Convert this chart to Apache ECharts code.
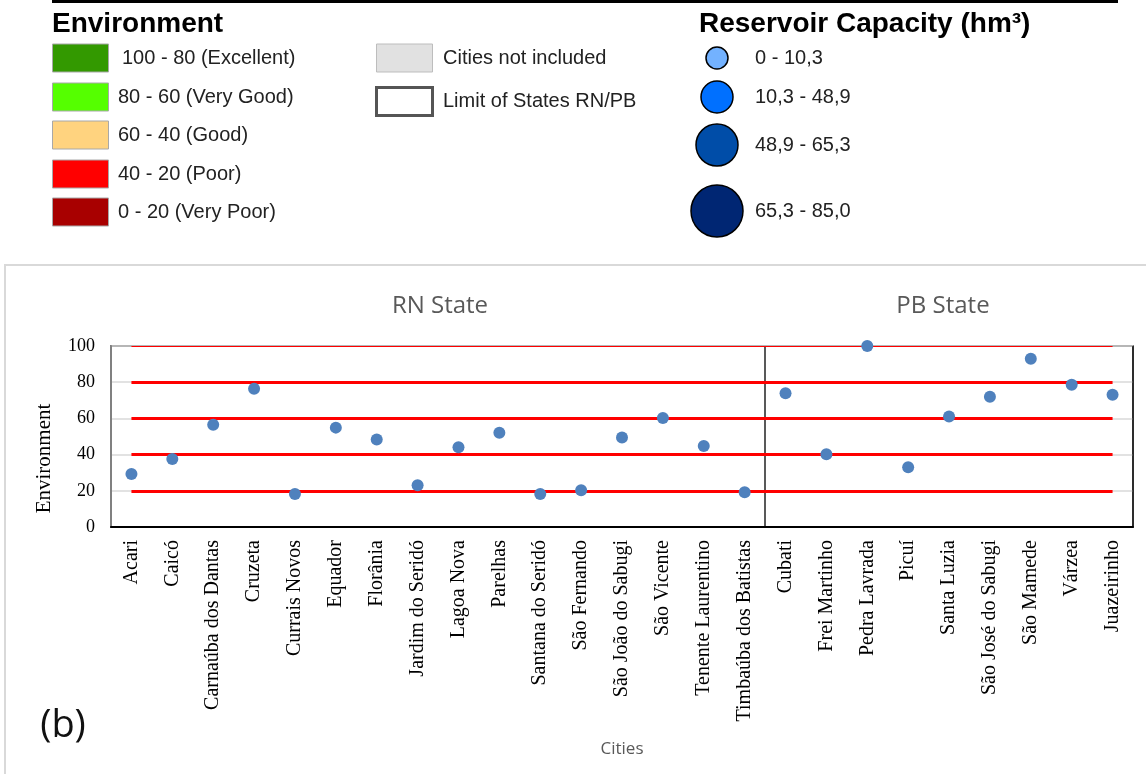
<!DOCTYPE html>
<html>
<head>
<meta charset="utf-8">
<title>Environment index by city</title>
<script src="https://cdn.jsdelivr.net/npm/echarts@6/dist/echarts.min.js"></script>
<style>
  html, body { margin: 0; padding: 0; background: #ffffff; }
  #chart { width: 1146px; height: 774px; }
</style>
</head>
<body>
<div id="chart"></div>
<script>
// Cities of the Seridó region: first the RN ones, then the PB ones
const cities = [
  'Acari', 'Caicó', 'Carnaúba dos Dantas', 'Cruzeta', 'Currais Novos', 'Equador',
  'Florânia', 'Jardim do Seridó', 'Lagoa Nova', 'Parelhas', 'Santana do Seridó',
  'São Fernando', 'São João do Sabugi', 'São Vicente', 'Tenente Laurentino',
  'Timbaúba dos Batistas',
  'Cubati', 'Frei Martinho', 'Pedra Lavrada', 'Picuí', 'Santa Luzia',
  'São José do Sabugi', 'São Mamede', 'Várzea', 'Juazeirinho'
];
const rnCityCount = 16;

// Environment index per city
const environment = [
  29.3, 37.6, 56.5, 76.4, 18.2, 54.9, 48.4, 23.1, 44.0, 52.1, 18.2, 20.3, 49.4,
  60.2, 44.8, 19.2,
  73.9, 40.2, 100, 33.0, 61.0, 72.0, 93.0, 78.6, 73.1
];

// Class limits drawn as horizontal reference lines
const classLimits = [20, 40, 60, 80, 100];
const yTicks = [0, 20, 40, 60, 80, 100];

const stateTitles = ['RN State', 'PB State'];

// Map legend contents
const envClassLabels = ['100 - 80 (Excellent)', '80 - 60 (Very Good)', '60 - 40 (Good)', '40 - 20 (Poor)', '0 - 20 (Very Poor)'];
const envClassColors = ['#339900', '#55ff00', '#ffd37f', '#ff0000', '#a80000'];
const otherLabels = ['Cities not included', 'Limit of States RN/PB'];
const capacityLabels = ['0 - 10,3', '10,3 - 48,9', '48,9 - 65,3', '65,3 - 85,0'];
const capacityColors = ['#73b2ff', '#0070ff', '#004da8', '#002673'];

const chart = echarts.init(document.getElementById('chart'), null, { renderer: 'canvas' });

const legendFont = '20px "Liberation Sans", Arial, sans-serif';
const headFont = 'bold 28px "Liberation Sans", Arial, sans-serif';
const graphics = [];

// top rule of the legend block
graphics.push({ type: 'rect', shape: { x: 52, y: 0, width: 1066, height: 3 }, style: { fill: '#000' } });

// Environment classes
graphics.push({ type: 'text', x: 52, y: 24, style: { text: 'Environment', font: headFont, fill: '#000', verticalAlign: 'middle' } });
const envRowY = [58, 97, 135, 174, 212];
envClassLabels.forEach((lab, i) => {
  graphics.push({ type: 'rect', shape: { x: 52.5, y: envRowY[i] - 14, width: 56, height: 28 },
    style: { fill: envClassColors[i], stroke: '#a8a8a8', lineWidth: 1 } });
  graphics.push({ type: 'text', x: i === 0 ? 122 : 118, y: envRowY[i],
    style: { text: lab, font: legendFont, fill: '#222', verticalAlign: 'middle' } });
});

// Other map symbols
graphics.push({ type: 'rect', shape: { x: 376.5, y: 44, width: 56, height: 28 }, style: { fill: '#e1e1e1', stroke: '#bdbdbd', lineWidth: 1 } });
graphics.push({ type: 'rect', shape: { x: 376.5, y: 87.5, width: 56, height: 28 }, style: { fill: '#fff', stroke: '#555', lineWidth: 3 } });
graphics.push({ type: 'text', x: 443, y: 58, style: { text: otherLabels[0], font: legendFont, fill: '#222', verticalAlign: 'middle' } });
graphics.push({ type: 'text', x: 443, y: 101, style: { text: otherLabels[1], font: legendFont, fill: '#222', verticalAlign: 'middle' } });

// Reservoir capacity classes
graphics.push({ type: 'text', x: 699, y: 24, style: { text: 'Reservoir Capacity (hm³)', font: headFont, fill: '#000', verticalAlign: 'middle' } });
const capRowY = [58, 97, 145, 211];
const capRadius = [11, 16, 21, 26];
capacityLabels.forEach((lab, i) => {
  graphics.push({ type: 'circle', shape: { cx: 717, cy: capRowY[i], r: capRadius[i] },
    style: { fill: capacityColors[i], stroke: '#000', lineWidth: 1.5 } });
  graphics.push({ type: 'text', x: 755, y: capRowY[i],
    style: { text: lab, font: legendFont, fill: '#222', verticalAlign: 'middle' } });
});

// frame of the chart panel
graphics.push({ type: 'rect', shape: { x: 5, y: 265, width: 1200, height: 600 }, style: { fill: 'none', stroke: '#d9d9d9', lineWidth: 2 } });

// state headings
graphics.push({ type: 'text', x: 440, y: 306, style: { text: stateTitles[0], font: '24px "Open Sans", sans-serif', fill: '#595959', align: 'center', verticalAlign: 'middle' } });
graphics.push({ type: 'text', x: 943, y: 306, style: { text: stateTitles[1], font: '24px "Open Sans", sans-serif', fill: '#595959', align: 'center', verticalAlign: 'middle' } });

// panel tag
graphics.push({ type: 'text', x: 63, y: 726, style: { text: '(b)', font: '38px "Open Sans", sans-serif', fill: '#111', align: 'center', verticalAlign: 'middle' } });

const serif = '"Liberation Serif", "Times New Roman", serif';

const option = {
  animation: false,
  backgroundColor: '#ffffff',
  graphic: graphics,
  grid: {
    left: 111, right: 13, top: 346, bottom: 247,
    show: true, borderColor: '#1a1a1a', borderWidth: 1.5, backgroundColor: 'transparent'
  },
  xAxis: {
    type: 'category',
    data: cities,
    boundaryGap: true,
    name: 'Cities',
    nameLocation: 'middle',
    nameGap: 214,
    nameTextStyle: { fontFamily: '"Open Sans", sans-serif', fontSize: 17, color: '#595959' },
    axisLine: { show: true, lineStyle: { color: '#000', width: 2 } },
    axisTick: { show: false },
    axisLabel: {
      interval: 0, rotate: 90, margin: 13,
      fontFamily: serif, fontSize: 20, color: '#000'
    },
    // divider between the RN and PB cities (the first boundary falls on the frame)
    splitLine: {
      show: true,
      interval: (index) => index === 0 || index === rnCityCount,
      lineStyle: { color: '#222', width: 1.5 }
    }
  },
  yAxis: {
    type: 'value',
    min: yTicks[0], max: yTicks[yTicks.length - 1], interval: 20,
    name: 'Environment',
    nameLocation: 'middle',
    nameGap: 56,
    nameTextStyle: { fontFamily: serif, fontSize: 21, color: '#000', padding: [0, 44, 0, 0] },
    axisLine: { show: true, lineStyle: { color: '#808080', width: 2 } },
    axisTick: { show: false },
    axisLabel: { margin: 16, fontFamily: serif, fontSize: 18, color: '#000' },
    splitLine: { show: true, lineStyle: { color: '#d9d9d9', width: 1.5 } }
  },
  series: [{
    type: 'scatter',
    data: environment,
    symbol: 'circle',
    symbolSize: 12,
    itemStyle: { color: '#4f81bd', opacity: 1 },
    z: 5,
    markLine: {
      silent: true,
      symbol: ['none', 'none'],
      label: { show: false },
      z: 3,
      data: classLimits.map(v => [
        { coord: [cities[0], v], lineStyle: { color: '#ff0000', width: v === 100 ? 1.2 : 3, type: 'solid' } },
        { coord: [cities[cities.length - 1], v] }
      ])
    }
  }]
};

chart.setOption(option);
</script>
</body>
</html>
